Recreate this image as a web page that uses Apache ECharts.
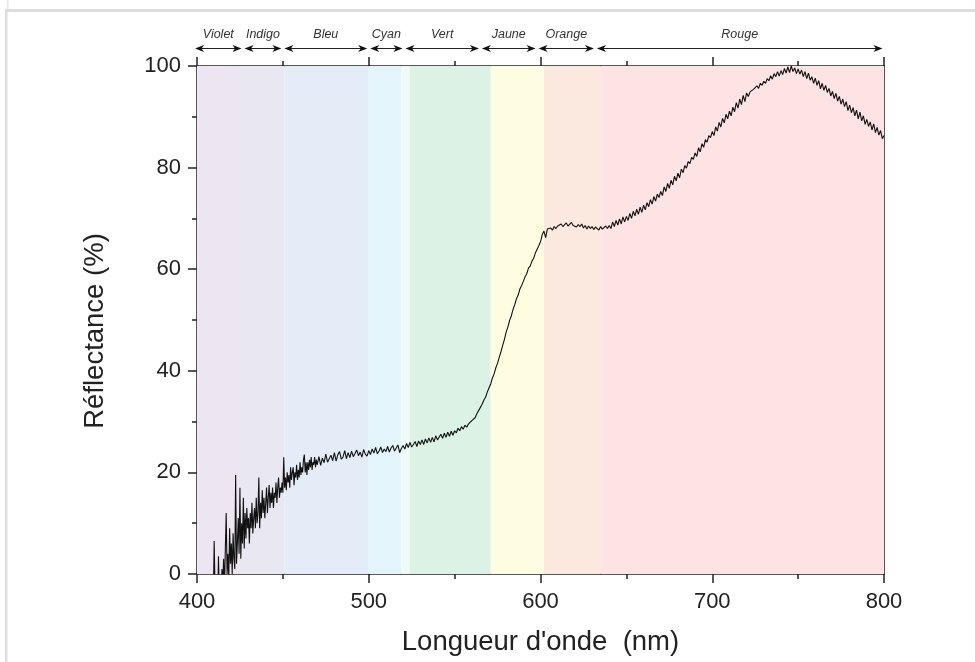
<!DOCTYPE html>
<html>
<head>
<meta charset="utf-8">
<script src="https://cdn.jsdelivr.net/npm/echarts@6/dist/echarts.min.js"></script>
<style>
html,body{margin:0;padding:0;background:#fff;}
#chart{width:975px;height:662px;}
</style>
</head>
<body>
<div id="chart"></div>
<script>
// ---- data ----
// noisy part: 405..470 nm, every 0.5 nm
var noisyStart = 405, noisyStep = 0.5;
var noisyValues = [
  -6,-4,-7,-5,-3,-6,-4,-8,-3,-5,
  6.5,-3,-6,-2,-5,3.5,-4,-1,-6,1,
  -2,3,-3,5,12,0,4,-1,9,2,
  6,0,8,3,1,19.5,2,6,11,4,
  17,3,10,6,15,5,12,7,13,9,
  11,6,12,9,14,8,11,13,9,15,
  10,12,19,9,14,11,16.5,12,15,11,
  14,17,12,15,17.5,13,16,14,17,13,
  16,15,18,14,17,19,15,17,16,18,
  16,23,17,19,16.5,20,18,19.5,17,21,
  18.5,20,21,17.5,20,19,21.5,18.5,20.5,19,
  22,19.5,21,20,22.5,23.5,20,22,19.5,22,
  20.5,22.5,21,23,20.5,22,21.5,23,21,22.5,
  21.5
];
// smoother part: 471..800 nm, every 1 nm
var smoothStart = 471, smoothStep = 1;
var smoothValues = [
  23.1,21.4,22.8,21.9,23.6,22.0,21.7,23.4,22.3,23.9,
  22.2,23.5,24.1,22.6,23.0,24.3,22.7,23.9,22.9,24.2,
  23.1,22.8,24.4,23.3,24.0,23.0,24.5,23.6,23.2,24.3,
  23.5,24.6,23.8,24.9,23.7,24.2,25.0,23.9,24.6,24.1,
  25.1,24.0,24.8,25.3,24.2,24.5,25.4,23.9,24.7,25.3,
  24.6,25.7,24.9,25.9,25.0,25.5,26.1,25.1,26.2,25.5,
  26.4,25.5,26.6,25.8,26.8,25.9,26.9,26.0,27.2,26.4,
  26.5,27.5,26.7,27.7,26.9,27.9,27.1,28.1,27.3,28.2,
  27.8,28.7,28.2,29.0,28.5,29.3,28.9,29.5,29.4,30.2,
  30.5,30.8,31.6,31.9,32.8,33.4,34.2,34.8,35.8,36.6,
  37.4,38.6,39.4,40.6,41.5,42.7,43.8,45.0,46.2,47.6,
  48.6,49.9,50.8,52.1,53.0,54.2,54.9,56.1,56.8,57.6,
  58.5,59.1,60.2,60.6,61.6,62.1,63.2,63.5,64.6,65.4,
  66.8,67.5,66.2,67.9,67.6,68.1,67.7,68.4,68.0,68.5,
  68.2,68.9,68.4,68.6,69.1,68.5,68.8,69.2,68.6,68.9,
  68.3,68.8,68.4,68.9,68.1,68.6,67.9,68.5,68.0,68.4,
  67.8,68.3,68.0,67.7,68.4,67.9,68.2,68.5,68.0,68.6,
  68.0,69.3,68.4,69.6,68.7,69.9,68.9,70.3,69.3,70.4,
  69.6,71.0,70.0,71.4,70.5,71.8,70.8,72.2,71.2,72.6,
  71.7,73.1,72.3,73.7,72.8,74.3,73.4,74.8,74.1,75.3,
  74.5,76.2,75.3,76.9,75.9,77.5,76.6,78.3,77.4,78.9,
  78.0,79.7,79.0,80.4,79.9,81.2,80.8,82.0,81.6,82.9,
  82.2,83.9,83.1,84.7,84.0,85.5,85.0,86.3,85.9,87.1,
  86.3,88.0,87.2,88.9,88.0,89.7,88.8,90.5,89.6,91.1,
  90.2,91.9,91.0,92.8,91.7,93.5,92.4,94.2,93.0,94.7,
  94.0,94.9,94.6,95.4,95.1,96.1,95.6,96.6,96.2,97.0,
  96.6,97.5,97.1,98.1,97.4,98.5,97.9,98.9,98.0,99.1,
  98.3,99.5,98.6,99.8,98.7,100.0,98.9,99.6,98.5,99.4,
  98.4,99.2,97.9,98.9,97.5,98.6,97.2,97.9,96.6,97.6,
  96.2,97.1,95.5,96.6,95.2,96.2,94.8,95.6,94.1,95.0,
  93.6,94.6,93.1,94.0,92.5,93.5,92.0,93.0,91.2,92.3,
  90.8,91.8,90.2,91.3,89.6,90.9,89.2,90.2,88.5,89.5,
  88.1,89.0,87.4,88.6,86.9,87.9,86.4,87.3,85.7,86.3
];
// background colour bands (nm)
var bandEdges  = [400, 425, 451, 500, 519, 524, 571, 602, 635, 800];
var bandColors = ['#ede6f2','#e8e7f2','#e4edf7','#e4f4fb','#eff9f6','#dbf2e5','#fefde2','#fbe8de','#fde3e4'];
// named spectral ranges shown with arrows on top (nm)
var rangeNames = ['Violet','Indigo','Bleu','Cyan','Vert','Jaune','Orange','Rouge'];
var rangeEdges = [398, 426.8, 450, 500, 520.5, 565, 598, 632, 800];
var xTicks = [400, 500, 600, 700, 800];
var yTicks = [0, 20, 40, 60, 80, 100];

// ---- build ----
var seriesData = [];
noisyValues.forEach(function (v, i) { seriesData.push([noisyStart + i * noisyStep, v]); });
smoothValues.forEach(function (v, i) { seriesData.push([smoothStart + i * smoothStep, v]); });

var areas = [];
for (var i = 0; i < bandColors.length; i++) {
  areas.push([{ xAxis: bandEdges[i], itemStyle: { color: bandColors[i], opacity: 1 } }, { xAxis: bandEdges[i + 1] }]);
}
var rangeData = [];
for (var j = 0; j < rangeNames.length; j++) {
  rangeData.push([rangeEdges[j], rangeEdges[j + 1], rangeNames[j]]);
}

var FONT = 'Liberation Sans, Arial, sans-serif';
var AX = '#222';

var chart = echarts.init(document.getElementById('chart'), null, { renderer: 'canvas' });
chart.setOption({
  animation: false,
  backgroundColor: '#fff',
  graphic: [
    { type: 'rect', shape: { x: 5, y: 9, width: 970, height: 3 }, style: { fill: '#dedede' }, silent: true },
    { type: 'rect', shape: { x: 5, y: 9, width: 2.5, height: 653 }, style: { fill: '#dedede' }, silent: true },
    { type: 'rect', shape: { x: 7, y: 0, width: 1.5, height: 9 }, style: { fill: '#e6e6e6' }, silent: true }
  ],
  grid: [
    { left: 197, right: 91, top: 66, bottom: 88, containLabel: false },
    { left: 197, right: 91, top: 29, height: 30, containLabel: false }
  ],
  xAxis: [
    {
      gridIndex: 0, type: 'value', min: xTicks[0], max: xTicks[xTicks.length - 1], interval: 100,
      position: 'bottom',
      name: "Longueur d'onde  (nm)", nameLocation: 'middle', nameGap: 54,
      nameTextStyle: { fontFamily: FONT, fontSize: 27.5, color: AX },
      axisLine: { show: true, onZero: false, lineStyle: { color: AX, width: 1.5 } },
      axisTick: { show: true, length: 9, lineStyle: { color: AX, width: 1.5 } },
      minorTick: { show: true, splitNumber: 2, length: 5, lineStyle: { color: AX, width: 1.5 } },
      axisLabel: { margin: 17, fontFamily: FONT, fontSize: 22, color: AX },
      splitLine: { show: false }
    },
    {
      gridIndex: 0, type: 'value', min: xTicks[0], max: xTicks[xTicks.length - 1], interval: 100,
      position: 'top',
      axisLine: { show: true, onZero: false, lineStyle: { color: AX, width: 1.5 } },
      axisTick: { show: true, length: 9, lineStyle: { color: AX, width: 1.5 } },
      minorTick: { show: true, splitNumber: 2, length: 5, lineStyle: { color: AX, width: 1.5 } },
      axisLabel: { show: false },
      splitLine: { show: false }
    },
    {
      gridIndex: 1, type: 'value', min: 400, max: 800, show: false
    }
  ],
  yAxis: [
    {
      gridIndex: 0, type: 'value', min: yTicks[0], max: yTicks[yTicks.length - 1], interval: 20,
      position: 'left',
      name: 'Réflectance (%)', nameLocation: 'middle', nameGap: 88, nameRotate: 90,
      nameTextStyle: { fontFamily: FONT, fontSize: 27.5, color: AX, padding: [0, 22, 0, 0] },
      axisLine: { show: true, onZero: false, lineStyle: { color: AX, width: 1.5 } },
      axisTick: { show: true, length: 9, lineStyle: { color: AX, width: 1.5 } },
      minorTick: { show: true, splitNumber: 2, length: 5, lineStyle: { color: AX, width: 1.5 } },
      axisLabel: { margin: 16, fontFamily: FONT, fontSize: 22, color: AX },
      splitLine: { show: false }
    },
    {
      gridIndex: 0, type: 'value', min: 0, max: 100, position: 'right',
      axisLine: { show: true, onZero: false, lineStyle: { color: AX, width: 1.5 } },
      axisTick: { show: false }, axisLabel: { show: false }, splitLine: { show: false }
    },
    {
      gridIndex: 1, type: 'value', min: 0, max: 1, show: false
    }
  ],
  series: [
    {
      type: 'line', xAxisIndex: 0, yAxisIndex: 0,
      data: seriesData, showSymbol: false, symbol: 'none',
      lineStyle: { color: '#111', width: 1.1 },
      clip: true, z: 3,
      markArea: { silent: true, data: areas }
    },
    {
      type: 'custom', xAxisIndex: 2, yAxisIndex: 2,
      data: rangeData,
      renderItem: function (params, api) {
        var a = api.coord([api.value(0), 0.35]);
        var b = api.coord([api.value(1), 0.35]);
        var y = a[1];
        var x1 = a[0] + 1.5, x2 = b[0] - 1.5;
        var L = 9, H = 3.4, N = 6.5;
        return {
          type: 'group',
          children: [
            { type: 'line', shape: { x1: x1 + 2, y1: y, x2: x2 - 2, y2: y }, style: { stroke: '#222', lineWidth: 1 } },
            { type: 'polygon', shape: { points: [[x1, y], [x1 + L, y - H], [x1 + N, y], [x1 + L, y + H]] }, style: { fill: '#111' } },
            { type: 'polygon', shape: { points: [[x2, y], [x2 - L, y - H], [x2 - N, y], [x2 - L, y + H]] }, style: { fill: '#111' } },
            { type: 'text', x: (x1 + x2) / 2, y: y - 13.5,
              style: { text: api.value(2), fontFamily: FONT, fontStyle: 'italic', fontSize: 12.5, fill: '#333', align: 'center', verticalAlign: 'middle' } }
          ]
        };
      }
    }
  ]
});
</script>
</body>
</html>
